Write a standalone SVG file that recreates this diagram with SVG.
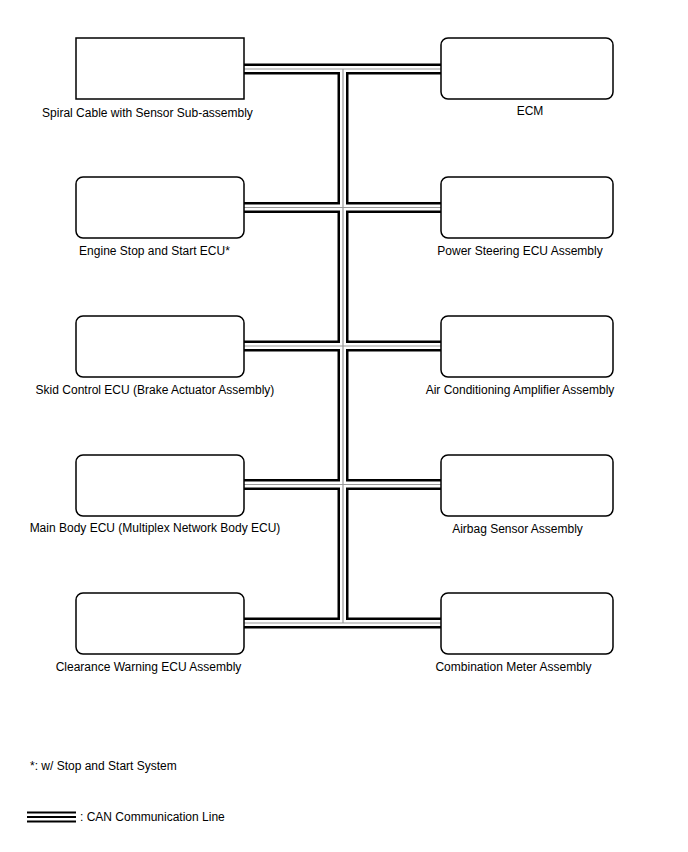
<svg xmlns="http://www.w3.org/2000/svg" width="688" height="852" viewBox="0 0 688 852">
<style>
.box{fill:#fff;stroke:#000;stroke-width:1.5}
.lbl{font-family:"Liberation Sans",Arial,sans-serif;font-size:12px;fill:#000;text-anchor:middle}
.note{font-family:"Liberation Sans",Arial,sans-serif;font-size:12px;fill:#000}
.c1{fill:none;stroke:#000;stroke-width:11}
.c2{fill:none;stroke:#fff;stroke-width:6}
.c3{fill:none;stroke:#999;stroke-width:1.2}
</style>
<rect width="688" height="852" fill="#fff"/>
<defs>
<path id="bus" d="M244,69H441M343,69V623M244,207.5H441M244,346H441M244,484.5H441M244,623H441"/>
</defs>
<g id="connectors">
<use href="#bus" class="c1"/>
<use href="#bus" class="c2"/>
<use href="#bus" class="c3"/>
</g>
<g id="spiral"><rect class="box" x="76" y="38" width="168" height="61"/><text class="lbl" x="147.5" y="117">Spiral Cable with Sensor Sub-assembly</text></g>
<g id="ecm"><rect class="box" x="441" y="38" width="172" height="61" rx="7"/><text class="lbl" x="530" y="115">ECM</text></g>
<g id="engine"><rect class="box" x="76" y="177" width="168" height="61" rx="7"/><text class="lbl" x="154.5" y="255">Engine Stop and Start ECU*</text></g>
<g id="psecu"><rect class="box" x="441" y="177" width="172" height="61" rx="7"/><text class="lbl" x="520" y="255">Power Steering ECU Assembly</text></g>
<g id="skid"><rect class="box" x="76" y="316" width="168" height="61" rx="7"/><text class="lbl" x="155" y="394">Skid Control ECU (Brake Actuator Assembly)</text></g>
<g id="ac"><rect class="box" x="441" y="316" width="172" height="61" rx="7"/><text class="lbl" x="520" y="394">Air Conditioning Amplifier Assembly</text></g>
<g id="mainbody"><rect class="box" x="76" y="455" width="168" height="61" rx="7"/><text class="lbl" x="155" y="532">Main Body ECU (Multiplex Network Body ECU)</text></g>
<g id="airbag"><rect class="box" x="441" y="455" width="172" height="61" rx="7"/><text class="lbl" x="517.5" y="533">Airbag Sensor Assembly</text></g>
<g id="clearance"><rect class="box" x="76" y="593" width="168" height="61" rx="7"/><text class="lbl" x="148.5" y="671">Clearance Warning ECU Assembly</text></g>
<g id="meter"><rect class="box" x="441" y="593" width="172" height="61" rx="7"/><text class="lbl" x="513.5" y="671">Combination Meter Assembly</text></g>
<g id="legend">
<text class="note" x="30" y="770">*: w/ Stop and Start System</text>
<g stroke="#000" stroke-width="1.8"><line x1="27" y1="812.5" x2="76" y2="812.5"/><line x1="27" y1="817" x2="76" y2="817"/><line x1="27" y1="821.5" x2="76" y2="821.5"/></g>
<text class="note" x="80" y="821">: CAN Communication Line</text>
</g>
</svg>
